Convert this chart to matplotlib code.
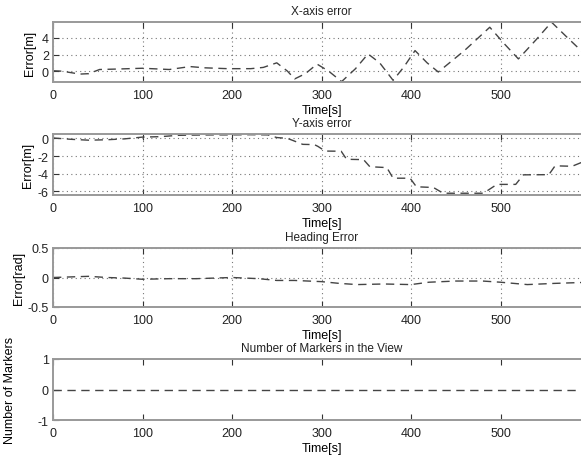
import matplotlib
matplotlib.use("Agg")
import matplotlib.pyplot as plt
import numpy as np

plt.rcParams['font.family'] = ['Liberation Sans', 'DejaVu Sans']
plt.rcParams['text.color'] = '#222222'

# X-axis error
x_t = [0, 10, 30, 40, 52, 70, 100, 130, 153, 170, 195, 221, 235, 250, 262, 270, 282, 295,
       308, 322.5, 338, 352, 365, 380, 392, 404.5, 418, 430.5, 460, 488, 505, 520, 540, 557, 575, 590, 600]
x_v = [0.05, 0.0, -0.35, -0.3, 0.2, 0.25, 0.35, 0.2, 0.55, 0.4, 0.3, 0.3, 0.45, 1.0, 0.0, -0.93, -0.3, 0.85,
       0.0, -1.25, 0.3, 2.07, 1.0, -1.1, 0.5, 2.47, 1.0, -0.1, 2.5, 5.27, 3.2, 1.47, 3.8, 5.88, 4.0, 2.47, 1.6]

# Y-axis error
y_t = [0, 20, 40, 60, 80, 100, 120, 140, 160, 180, 200, 220, 240, 250, 262, 268, 279, 292, 296,
       304, 322, 328, 347, 354, 373, 380, 399, 406, 425, 436, 481, 496, 517, 525.5, 554, 561, 580, 590, 600]
y_v = [0.05, -0.1, -0.2, -0.15, -0.05, 0.15, 0.2, 0.35, 0.38, 0.4, 0.4, 0.42, 0.4, 0.1, 0.0, -0.23, -0.67, -0.7, -0.9,
       -1.43, -1.45, -2.36, -2.4, -3.2, -3.3, -4.5, -4.5, -5.47, -5.55, -6.2, -6.2, -5.2, -5.2, -4.12, -4.1, -3.1, -3.15, -2.74, -2.6]

# Heading error
h_t = [0, 20, 40, 60, 80, 100, 130, 160, 200, 230, 250, 270, 300, 320, 340, 370, 400, 420, 450, 480, 500, 530, 560, 600]
h_v = [0.0, 0.01, 0.02, 0.0, -0.01, -0.03, -0.02, -0.02, 0.0, -0.02, -0.05, -0.05, -0.07, -0.1, -0.12, -0.11, -0.12, -0.08, -0.06, -0.06, -0.08, -0.12, -0.1, -0.08]

# Number of markers
m_t = [0, 600]
m_v = [0, 0]

titles = ["X-axis error", "Y-axis error", "Heading Error", "Number of Markers in the View"]
ylabels = ["Error[m]", "Error[m]", "Error[rad]", "Number of Markers"]
ylims = [(-1.3, 5.9), (-6.4, 0.5), (-0.5, 0.5), (-1, 1)]
yticks = [[0, 2, 4], [-6, -4, -2, 0], [-0.5, 0, 0.5], [-1, 0, 1]]
ytl = [["0", "2", "4"], ["-6", "-4", "-2", "0"], ["-0.5", "0", "0.5"], ["-1", "0", "1"]]
xticks = [0, 100, 200, 300, 400, 500]
series = [(x_t, x_v), (y_t, y_v), (h_t, h_v), (m_t, m_v)]
grids = [True, True, True, False]
ylabel_pads = [4, 3, 2, 16]

W, H = 581, 456
fig = plt.figure(figsize=(W / 100, H / 100), dpi=100)
tops = [23, 135, 249, 360]
bots = [83, 196, 308, 421]
left, right = 53, 590

for i in range(4):
    ax = fig.add_axes([left / W, 1 - bots[i] / H, (right - left) / W, (bots[i] - tops[i]) / H])
    t, v = series[i]
    ax.plot(t, v, color='#444444', lw=1.0, dashes=(6, 4))
    ax.set_xlim(0, 600)
    ax.set_ylim(*ylims[i])
    ax.set_xticks(xticks)
    ax.set_yticks(yticks[i])
    ax.set_yticklabels(ytl[i])
    ax.tick_params(direction='in', length=4, width=0.8, color='#333333', top=True, right=True,
                   labelsize=9, labelcolor='#222222')
    ax.tick_params(axis='x', pad=5)
    ax.tick_params(axis='y', pad=3)
    for s in ax.spines.values():
        s.set_color('#999999')
        s.set_linewidth(1.4)
    if grids[i]:
        ax.grid(True, linestyle=(0, (1, 3)), color='#777777', lw=0.8)
    ax.set_title(titles[i], fontsize=8.5, pad=6)
    ax.set_xlabel("Time[s]", fontsize=9, labelpad=2)
    ax.set_ylabel(ylabels[i], fontsize=9, labelpad=ylabel_pads[i])

fig.savefig("out.png", dpi=100)
